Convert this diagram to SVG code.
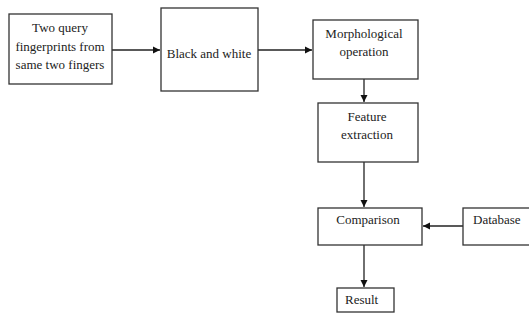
<svg xmlns="http://www.w3.org/2000/svg" width="529" height="322" viewBox="0 0 529 322">
<defs>
<style>
.box{fill:#fff;stroke:#333;stroke-width:1.3}
.t{font-family:"Liberation Serif","Times New Roman",serif;font-size:13px;fill:#222}
.c{stroke:#222;stroke-width:1.3;fill:none}
</style>
<marker id="ah" markerWidth="8" markerHeight="8" refX="7" refY="4" orient="auto" markerUnits="userSpaceOnUse">
<path d="M0,0.5 L7,4 L0,7.5 Z" fill="#111"/>
</marker>
</defs>
<rect width="529" height="322" fill="#fff"/>
<g id="connectors">
<line class="c" x1="112" y1="50" x2="160" y2="50" marker-end="url(#ah)"/>
<line class="c" x1="258" y1="50" x2="312" y2="50" marker-end="url(#ah)"/>
<line class="c" x1="364" y1="79" x2="364" y2="102" marker-end="url(#ah)"/>
<line class="c" x1="364" y1="162" x2="364" y2="207" marker-end="url(#ah)"/>
<line class="c" x1="463" y1="226" x2="423" y2="226" marker-end="url(#ah)"/>
<line class="c" x1="364" y1="245" x2="364" y2="287" marker-end="url(#ah)"/>
</g>
<g id="query">
<rect class="box" x="9" y="14" width="103" height="70"/>
<text class="t" text-anchor="middle" x="60" y="32">Two query</text>
<text class="t" text-anchor="middle" x="60" y="51">fingerprints from</text>
<text class="t" text-anchor="middle" x="60" y="69">same two fingers</text>
</g>
<g id="bw">
<rect class="box" x="161" y="8" width="97" height="83"/>
<text class="t" text-anchor="middle" x="209" y="58">Black and white</text>
</g>
<g id="morph">
<rect class="box" x="313" y="20" width="105" height="59"/>
<text class="t" text-anchor="middle" x="364" y="38">Morphological</text>
<text class="t" text-anchor="middle" x="364" y="56">operation</text>
</g>
<g id="feature">
<rect class="box" x="318" y="103" width="100" height="59"/>
<text class="t" text-anchor="middle" x="367" y="121">Feature</text>
<text class="t" text-anchor="middle" x="367" y="139">extraction</text>
</g>
<g id="comparison">
<rect class="box" x="318" y="208" width="104" height="37"/>
<text class="t" text-anchor="middle" x="368" y="224">Comparison</text>
</g>
<g id="database">
<rect class="box" x="463" y="208" width="80" height="37"/>
<text class="t" x="473" y="224">Database</text>
</g>
<g id="result">
<rect class="box" x="337" y="288" width="57" height="24"/>
<text class="t" x="345" y="304">Result</text>
</g>
</svg>
